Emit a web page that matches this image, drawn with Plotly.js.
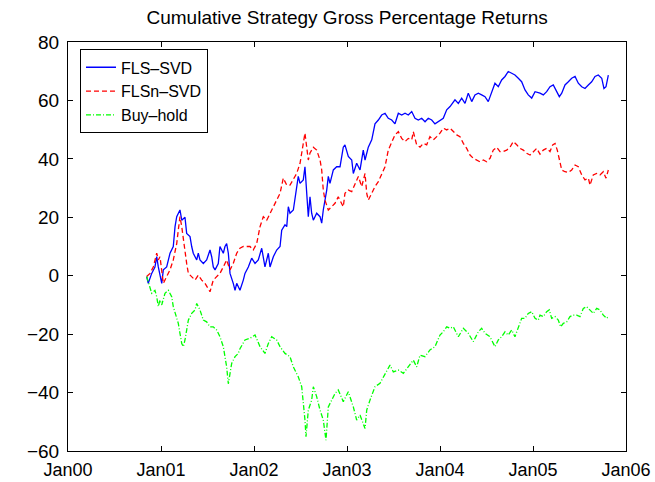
<!DOCTYPE html>
<html>
<head>
<meta charset="utf-8">
<script src="https://cdn.plot.ly/plotly-3.0.1.min.js"></script>
<style>
  html, body { margin: 0; padding: 0; background: #fff; }
  #chart { width: 655px; height: 482px; }
</style>
</head>
<body>
<div id="chart"></div>
<script>
// Time in decimal years
const flsSvdT = [2000.846,2000.863,2000.900,2000.935,2000.954,2000.971,2001.008,2001.025,2001.061,2001.097,2001.132,2001.151,2001.169,2001.204,2001.223,2001.258,2001.276,2001.312,2001.330,2001.347,2001.384,2001.401,2001.419,2001.455,2001.491,2001.527,2001.545,2001.562,2001.581,2001.616,2001.634,2001.670,2001.688,2001.706,2001.724,2001.742,2001.777,2001.796,2001.814,2001.849,2001.885,2001.903,2001.939,2001.975,2002.011,2002.046,2002.083,2002.118,2002.154,2002.172,2002.208,2002.244,2002.280,2002.298,2002.333,2002.352,2002.369,2002.387,2002.423,2002.441,2002.476,2002.495,2002.530,2002.548,2002.567,2002.584,2002.602,2002.620,2002.638,2002.674,2002.710,2002.728,2002.745,2002.782,2002.799,2002.817,2002.853,2002.889,2002.925,2002.960,2002.978,2003.014,2003.051,2003.068,2003.104,2003.140,2003.175,2003.194,2003.229,2003.266,2003.301,2003.337,2003.373,2003.409,2003.444,2003.481,2003.516,2003.552,2003.588,2003.624,2003.659,2003.696,2003.731,2003.767,2003.803,2003.839,2003.874,2003.911,2003.946,2004.000,2004.035,2004.072,2004.108,2004.161,2004.197,2004.233,2004.269,2004.304,2004.341,2004.376,2004.412,2004.448,2004.484,2004.519,2004.556,2004.591,2004.627,2004.663,2004.699,2004.734,2004.771,2004.806,2004.842,2004.878,2004.914,2004.949,2004.986,2005.022,2005.075,2005.111,2005.147,2005.183,2005.218,2005.255,2005.283,2005.309,2005.344,2005.380,2005.416,2005.452,2005.487,2005.524,2005.559,2005.595,2005.631,2005.667,2005.702,2005.739,2005.763,2005.785,2005.810];
const flsSvd = [-0.3,-2.6,0.8,3,6.5,3,-2.6,2,3,7.7,10,16.8,20.2,22.5,19,20,14.5,13.4,10,7.7,5.4,7.7,5.4,4.2,5.4,8.8,6.5,3,2,4.2,10,7.7,10,11,7.7,0.8,-2.6,-5,-2.6,-5,-1.5,0.8,3,6,4.2,5.4,9.4,3,7.7,3,6.5,8.8,10,15.6,17.4,16.8,23.6,21.4,22.5,27,34,31.6,32.8,37.3,29.3,20.2,27,21.4,19,21.4,20.2,18,22.5,29.3,34,31.6,36.2,37.3,37.3,44,44.8,40.8,39.6,35,38.5,36.2,43,39.6,44,46.5,52,53.3,55,55.6,53.9,53.3,52,55.6,55,55.6,55,56.2,53.9,53.3,53.9,52.7,53.9,53.3,52,53.3,53.9,56.8,57.9,60.2,59,60.8,59,62.5,59.6,61.9,62.5,61.9,61.3,59.6,62.5,65.9,64.7,67,68.2,69.9,69.3,68.7,67.6,66.4,63.6,61.9,60.8,63,62.5,61.9,63,64.7,65.3,63,61.3,62.5,65.3,66.4,67.6,68.2,65.9,64.7,64.1,65.3,66.4,68.2,68.7,67.6,64.1,64.7,68.7];

const flsnSvdT = [2000.846,2000.882,2000.917,2000.954,2000.971,2000.989,2001.025,2001.061,2001.097,2001.132,2001.169,2001.186,2001.204,2001.223,2001.240,2001.276,2001.294,2001.330,2001.366,2001.401,2001.438,2001.473,2001.527,2001.562,2001.599,2001.634,2001.670,2001.706,2001.742,2001.777,2001.814,2001.849,2001.885,2001.922,2001.957,2001.992,2002.029,2002.065,2002.100,2002.137,2002.172,2002.208,2002.244,2002.280,2002.315,2002.352,2002.387,2002.423,2002.459,2002.495,2002.513,2002.530,2002.548,2002.567,2002.584,2002.602,2002.638,2002.674,2002.710,2002.728,2002.745,2002.763,2002.799,2002.835,2002.871,2002.906,2002.925,2002.960,2002.978,2003.014,2003.051,2003.086,2003.122,2003.158,2003.194,2003.212,2003.229,2003.266,2003.301,2003.337,2003.373,2003.409,2003.444,2003.481,2003.516,2003.552,2003.588,2003.624,2003.659,2003.696,2003.713,2003.749,2003.785,2003.820,2003.857,2003.892,2003.928,2003.965,2004.000,2004.035,2004.072,2004.108,2004.143,2004.180,2004.215,2004.251,2004.287,2004.323,2004.358,2004.395,2004.430,2004.466,2004.502,2004.538,2004.573,2004.610,2004.645,2004.681,2004.717,2004.753,2004.788,2004.825,2004.860,2004.896,2004.932,2004.968,2005.003,2005.040,2005.075,2005.111,2005.147,2005.183,2005.212,2005.237,2005.261,2005.283,2005.309,2005.344,2005.380,2005.416,2005.452,2005.487,2005.524,2005.559,2005.595,2005.613,2005.648,2005.685,2005.720,2005.756,2005.785,2005.810];
const flsnSvd = [-0.3,0.8,3,7.7,5.4,6.5,-2.6,-0.3,2,5.4,11,15.6,20.2,16.8,12.2,4.2,0.8,-0.3,-1.5,0.2,-1.5,-2.6,-5.5,-1.5,-0.3,0.8,3,5.4,2,4.2,7.7,9.4,10,10,10,8.8,11,16.8,20.2,19,21.4,23.6,25.9,28.2,33.4,31,31,32.8,35,38.5,43,45.3,48.8,44,39.6,42,44,43,39.6,36.2,29.3,25.9,22.5,23.6,24.8,27,25.9,23.6,28.2,29.3,28.8,31.6,34,30.5,35,28.2,25.9,28.2,30.5,32.2,35,37.3,43,45.9,48.2,49.3,47,45.9,47,46.5,49.3,44.8,44,45.3,44.8,47.6,46.5,47.6,48.8,50.5,49.9,50.5,49.3,48.2,47.6,45.3,43.6,41.3,40.2,39.6,39,39.6,39,40.2,43,44,42.5,42.5,43,44,45.9,44.8,43.6,43,41.9,41.3,42.5,43.6,41.6,43,43.6,42.5,44.8,45.3,43,39.6,36.2,35.6,35.3,36.2,37.9,37.3,34.5,32.8,33.4,31,34.5,35,34.5,35.6,33.4,36.2];

const buyHoldT = [2000.846,2000.882,2000.900,2000.935,2000.954,2000.971,2000.989,2001.008,2001.043,2001.079,2001.115,2001.132,2001.151,2001.186,2001.204,2001.223,2001.240,2001.258,2001.276,2001.294,2001.330,2001.366,2001.384,2001.419,2001.455,2001.491,2001.527,2001.562,2001.599,2001.634,2001.670,2001.688,2001.706,2001.724,2001.742,2001.760,2001.796,2001.831,2001.849,2001.903,2001.957,2002.011,2002.065,2002.118,2002.154,2002.190,2002.244,2002.280,2002.333,2002.387,2002.423,2002.476,2002.513,2002.530,2002.548,2002.559,2002.584,2002.620,2002.638,2002.674,2002.710,2002.745,2002.774,2002.799,2002.835,2002.871,2002.906,2002.960,2003.014,2003.068,2003.104,2003.140,2003.194,2003.212,2003.247,2003.301,2003.355,2003.409,2003.462,2003.498,2003.552,2003.606,2003.659,2003.713,2003.749,2003.785,2003.839,2003.892,2003.946,2004.000,2004.035,2004.072,2004.108,2004.143,2004.197,2004.251,2004.304,2004.358,2004.412,2004.448,2004.484,2004.538,2004.591,2004.627,2004.663,2004.699,2004.734,2004.771,2004.806,2004.842,2004.878,2004.914,2004.949,2004.986,2005.022,2005.057,2005.075,2005.111,2005.147,2005.175,2005.201,2005.237,2005.272,2005.298,2005.326,2005.362,2005.398,2005.433,2005.470,2005.505,2005.541,2005.577,2005.613,2005.648,2005.685,2005.720,2005.756,2005.792,2005.810];
const buyHold = [-0.3,-3.8,-6,-5,-7.2,-10.6,-8.3,-10,-6,-5,-7.2,-10.6,-12.9,-16.3,-19.7,-23.2,-24.3,-22,-18.6,-15.2,-12.9,-11.7,-9.5,-11.7,-15.2,-15.8,-17.5,-17.5,-18.6,-20.9,-24.3,-27.7,-31.2,-37,-33.4,-30,-27.7,-26.6,-25,-22,-21.4,-20.3,-24.3,-26.6,-23.2,-20.9,-22,-24.3,-26.6,-27.7,-31.2,-34.6,-38,-42.6,-49.4,-55.1,-46,-42.6,-38,-41.4,-46,-49.4,-56.3,-44.9,-42.6,-40.3,-39.1,-43.1,-39.7,-44.9,-49.4,-47.7,-52.3,-46,-42.6,-38,-36.8,-33.4,-30.6,-32.9,-32.3,-33.4,-31.2,-28.9,-31.2,-27.2,-27.7,-25.4,-24.3,-20.3,-19.2,-17.5,-18,-17.5,-20.9,-18,-19.7,-22.6,-19.2,-18,-19.7,-20.9,-24.3,-22,-20.9,-19.2,-20.3,-18.6,-20.9,-17.5,-14.6,-14.6,-12.9,-12.3,-14.6,-15.2,-13.5,-14,-12.3,-11.7,-14.6,-14,-15.2,-17.5,-16.3,-15.8,-14,-13.5,-13.5,-14,-11.2,-10.6,-11.7,-12.9,-11.2,-11.7,-13.5,-14.6,-14];

const seriesNames = ['FLS\u2013SVD', 'FLSn\u2013SVD', 'Buy\u2013hold'];
const tickYears = [2000, 2001, 2002, 2003, 2004, 2005, 2006];
const tickLabels = ['Jan00', 'Jan01', 'Jan02', 'Jan03', 'Jan04', 'Jan05', 'Jan06'];

const font = '"Liberation Sans", Arial, Helvetica, sans-serif';

const traces = [
  { x: flsSvdT, y: flsSvd, name: seriesNames[0], type: 'scatter', mode: 'lines',
    line: { color: '#0000ff', width: 1.3 } },
  { x: flsnSvdT, y: flsnSvd, name: seriesNames[1], type: 'scatter', mode: 'lines',
    line: { color: '#ff0000', width: 1.3, dash: '5px,3px' } },
  { x: buyHoldT, y: buyHold, name: seriesNames[2], type: 'scatter', mode: 'lines',
    line: { color: '#00ff00', width: 1.3, dash: '5px,2px,1px,2px' } }
];

const axisCommon = {
  showline: true, mirror: 'ticks', linecolor: '#000', linewidth: 1,
  ticks: 'inside', ticklen: 5, tickcolor: '#000', tickwidth: 1,
  showgrid: false, zeroline: false,
  tickfont: { family: font, size: 18, color: '#000' }
};

const layout = {
  width: 655, height: 482,
  margin: { l: 68, r: 29, t: 42, b: 31 },
  paper_bgcolor: '#fff', plot_bgcolor: '#fff',
  font: { family: font, color: '#000' },
  title: { text: 'Cumulative Strategy Gross Percentage Returns',
    font: { family: font, size: 19, color: '#000' },
    x: 0.53, xref: 'container', xanchor: 'center', y: 0.963, yref: 'container', yanchor: 'middle' },
  xaxis: Object.assign({}, axisCommon, {
    range: [2000, 2006], tickmode: 'array', tickvals: tickYears, ticktext: tickLabels,
    ticklabelstandoff: 2
  }),
  yaxis: Object.assign({}, axisCommon, {
    range: [-60, 80], tickmode: 'linear', tick0: -60, dtick: 20,
    ticklabelstandoff: 4, tickfont: { family: font, size: 19, color: '#000' }
  }),
  showlegend: true,
  legend: {
    x: 0.0215, y: 0.982, xanchor: 'left', yanchor: 'top',
    bgcolor: '#fff', bordercolor: '#000', borderwidth: 1,
    font: { family: font, size: 16, color: '#000' },
    tracegroupgap: 0, itemwidth: 30
  }
};

Plotly.newPlot('chart', traces, layout, { displayModeBar: false, staticPlot: true });
</script>
</body>
</html>
